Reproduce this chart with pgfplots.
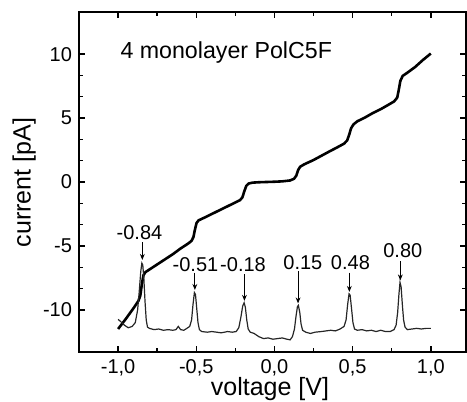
\documentclass[border=0pt]{standalone}
\usepackage{pgfplots}
\pgfplotsset{compat=1.18}
\usetikzlibrary{arrows.meta}
\usepackage{fontspec}
\setmainfont{Liberation Sans}
\begin{document}
\begin{tikzpicture}
\begin{axis}[
    scale only axis,
    width=193.5pt, height=170pt,
    xmin=-1.25, xmax=1.225,
    ymin=-13.3, ymax=13.3,
    axis line style={line width=0.8pt},
    xtick={-1,-0.5,0,0.5,1},
    xticklabels={{-1,0},{-0,5},{0,0},{0,5},{1,0}},
    ytick={-10,-5,0,5,10},
    yticklabels={-10,-5,0,5,10},
    minor x tick num=1,
    minor y tick num=2,
    tick align=inside,
    major tick length=3pt,
    minor tick length=1.8pt,
    tick style={line width=0.7pt, black},
    tick label style={font=\fontsize{10}{12}\selectfont},
    xlabel={voltage [V]},
    ylabel={current [pA]},
    label style={font=\fontsize{12.5}{14}\selectfont},
    xlabel style={at={(axis description cs:0.4935,-0.109)}, anchor=center},
    ylabel style={at={(axis description cs:-0.142,0.4985)}, anchor=center},
    clip=false,
]
% I-V curve
\addplot[black, line width=1.3pt] coordinates {
(-1.00,-11.5) (-0.95,-10.7) (-0.90,-9.85) (-0.87,-9.3) (-0.858,-8.9)
(-0.848,-8.0) (-0.838,-7.3) (-0.825,-7.05) (-0.80,-6.85) (-0.75,-6.45)
(-0.70,-6.05) (-0.65,-5.65) (-0.60,-5.2) (-0.55,-4.8) (-0.53,-4.6)
(-0.518,-4.3) (-0.508,-3.7) (-0.498,-3.2) (-0.485,-3.0) (-0.45,-2.8)
(-0.40,-2.5) (-0.35,-2.2) (-0.30,-1.9) (-0.25,-1.6) (-0.22,-1.42)
(-0.205,-1.2) (-0.192,-0.7) (-0.18,-0.3) (-0.165,-0.12) (-0.14,-0.05)
(-0.10,-0.02) (-0.05,0.0) (0.0,0.02) (0.05,0.05) (0.10,0.12)
(0.125,0.25) (0.14,0.5) (0.152,0.95) (0.165,1.2) (0.19,1.38)
(0.25,1.72) (0.30,2.05) (0.35,2.38) (0.40,2.7) (0.445,3.0)
(0.465,3.25) (0.478,3.7) (0.49,4.2) (0.505,4.5) (0.53,4.75)
(0.58,5.05) (0.63,5.4) (0.68,5.7) (0.73,6.05) (0.765,6.3)
(0.785,6.6) (0.795,7.2) (0.805,7.9) (0.82,8.3) (0.85,8.55)
(0.90,9.0) (0.95,9.55) (1.00,10.05)
};
% dI/dV curve
\addplot[black!85, line width=0.6pt] coordinates {
(-1.000,-10.75) (-0.985,-10.9) (-0.96,-11.2) (-0.935,-11.4) (-0.91,-11.3)
(-0.89,-11.0) (-0.875,-10.0) (-0.865,-8.6) (-0.855,-7.0) (-0.848,-6.35)
(-0.842,-6.5) (-0.835,-7.6) (-0.828,-9.3) (-0.82,-10.8) (-0.812,-11.35)
(-0.80,-11.45) (-0.77,-11.55) (-0.74,-11.5) (-0.71,-11.6) (-0.68,-11.55)
(-0.65,-11.6) (-0.63,-11.55) (-0.615,-11.3) (-0.60,-11.55) (-0.58,-11.6)
(-0.56,-11.45) (-0.542,-11.3) (-0.530,-10.8) (-0.521,-9.6) (-0.512,-8.65)
(-0.505,-8.8) (-0.497,-9.9) (-0.489,-11.0) (-0.480,-11.55) (-0.465,-11.7)
(-0.43,-11.75) (-0.40,-11.7) (-0.37,-11.75) (-0.34,-11.8) (-0.30,-11.7)
(-0.27,-11.75) (-0.245,-11.7) (-0.228,-11.4) (-0.215,-10.6) (-0.203,-9.7)
(-0.194,-9.45) (-0.186,-9.8) (-0.177,-10.8) (-0.168,-11.5) (-0.155,-11.75)
(-0.13,-11.85) (-0.10,-12.1) (-0.07,-12.25) (-0.04,-12.2) (-0.01,-12.3)
(0.02,-12.25) (0.05,-12.2) (0.08,-12.3) (0.10,-12.35) (0.115,-12.1)
(0.128,-11.5) (0.138,-10.5) (0.147,-9.75) (0.153,-9.65) (0.162,-10.2)
(0.170,-11.1) (0.180,-11.6) (0.20,-11.75) (0.23,-11.85) (0.26,-11.75)
(0.30,-11.7) (0.33,-11.65) (0.36,-11.6) (0.39,-11.65) (0.42,-11.5)
(0.445,-11.3) (0.458,-10.8) (0.468,-9.6) (0.477,-8.75) (0.484,-8.85)
(0.493,-9.9) (0.502,-11.0) (0.512,-11.5) (0.53,-11.6) (0.56,-11.55)
(0.59,-11.65) (0.62,-11.6) (0.65,-11.7) (0.68,-11.6) (0.71,-11.7)
(0.74,-11.7) (0.765,-11.55) (0.778,-11.2) (0.788,-10.2) (0.796,-8.8)
(0.803,-7.85) (0.810,-8.2) (0.818,-9.6) (0.826,-10.8) (0.835,-11.35)
(0.85,-11.55) (0.88,-11.5) (0.91,-11.45) (0.94,-11.5) (0.97,-11.45)
(1.00,-11.45)
};
% annotations
\node[font=\fontsize{11.6}{13}\selectfont, anchor=west, inner sep=0pt] at (axis cs:-0.987,10.1) {4 monolayer PolC5F};
\tikzset{pk/.style={-{Stealth[length=3pt,width=2.4pt]}, line width=0.5pt}}
\node[font=\fontsize{10}{12}\selectfont] at (axis cs:-0.863,-3.96) {-0.84};
\draw[pk] (axis cs:-0.845,-4.7) -- (axis cs:-0.845,-6.1);
\node[font=\fontsize{10}{12}\selectfont] at (axis cs:-0.505,-6.5) {-0.51};
\draw[pk] (axis cs:-0.509,-7.1) -- (axis cs:-0.509,-8.45);
\node[font=\fontsize{10}{12}\selectfont] at (axis cs:-0.201,-6.47) {-0.18};
\draw[pk] (axis cs:-0.192,-7.2) -- (axis cs:-0.192,-9.3);
\node[font=\fontsize{10}{12}\selectfont] at (axis cs:0.182,-6.3) {0.15};
\draw[pk] (axis cs:0.151,-7.0) -- (axis cs:0.151,-9.5);
\node[font=\fontsize{10}{12}\selectfont] at (axis cs:0.486,-6.3) {0.48};
\draw[pk] (axis cs:0.479,-7.1) -- (axis cs:0.479,-8.6);
\node[font=\fontsize{10}{12}\selectfont] at (axis cs:0.821,-5.4) {0.80};
\draw[pk] (axis cs:0.805,-6.2) -- (axis cs:0.805,-7.7);
\end{axis}
\pgfresetboundingbox
\useasboundingbox (-39.5pt,-25pt) rectangle (194pt,176pt);
\end{tikzpicture}
\end{document}
